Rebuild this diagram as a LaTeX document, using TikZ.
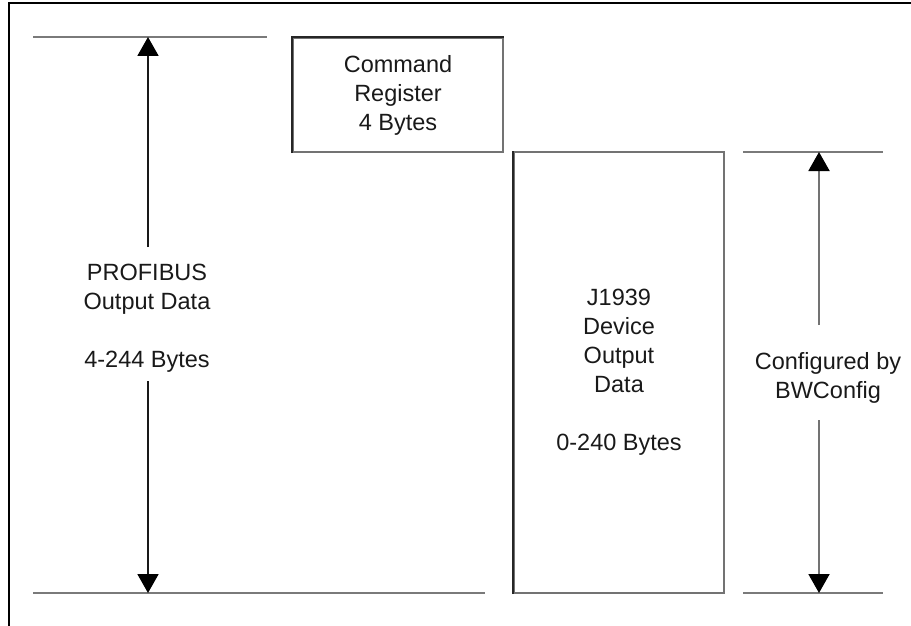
\documentclass[tikz,border=0pt]{standalone}
\usepackage{fontspec}
\setmainfont{Liberation Sans}
\usetikzlibrary{arrows.meta}
\begin{document}
\begin{tikzpicture}[x=1pt,y=-1pt,
  lbl/.style={align=center,inner sep=0pt,text=black!90,font=\fontsize{23.5}{29}\selectfont},
  regbox/.style={lbl,draw=black!55,line width=2.2pt,minimum width=210pt,minimum height=114pt},
  levelline/.style={draw=black!52,line width=2.6pt},
  edgedark/.style={draw=black!85,line width=1.8pt},
  frameline/.style={draw=black,line width=2.8pt},
  dimarrow/.style={line width=1.9pt,-{Triangle[width=21pt,length=19pt,color=black]}}
]
\useasboundingbox (0,0) rectangle (911,626);
% frame
\draw[frameline] (9,626) -- (9,3) -- (911,3);

% level lines
\coordinate (tl1) at (33,37);   \coordinate (tl2) at (267,37);
\coordinate (bl1) at (33,593);  \coordinate (bl2) at (485,593);
\coordinate (tr1) at (743,152); \coordinate (tr2) at (883,152);
\coordinate (br1) at (743,593); \coordinate (br2) at (883,593);
\draw[levelline] (tl1) -- (tl2);
\draw[levelline] (bl1) -- (bl2);
\draw[levelline] (tr1) -- (tr2);
\draw[levelline] (br1) -- (br2);

% boxes
\node[regbox] (cmd) at (398,95) {Command\\Register\\4 Bytes};
\node[regbox,minimum height=441pt] (j1939) at (619,372.5) {J1939\\Device\\Output\\Data\\[29pt]0-240 Bytes};
\draw[edgedark] (cmd.south west) -- (cmd.north west) -- (cmd.north east);
\draw[edgedark] (j1939.south west) -- (j1939.north west);

% PROFIBUS dimension
\node[lbl] (prof) at (147,318) {PROFIBUS\\Output Data\\[29pt]4-244 Bytes};
\coordinate (pa) at (148,247);
\coordinate (pb) at (148,381);
\coordinate (ptop) at (148,37);
\coordinate (pbot) at (148,593);
\draw[dimarrow,draw=black!90] (pa) -- (ptop);
\draw[dimarrow,draw=black!90] (pb) -- (pbot);

% BWConfig dimension
\node[lbl] (cfg) at (828,378) {Configured by\\BWConfig};
\coordinate (ca) at (819,325);
\coordinate (cb) at (819,420);
\coordinate (ctop) at (819,152);
\coordinate (cbot) at (819,593);
\draw[dimarrow,draw=black!55] (ca) -- (ctop);
\draw[dimarrow,draw=black!55] (cb) -- (cbot);
\end{tikzpicture}
\end{document}
